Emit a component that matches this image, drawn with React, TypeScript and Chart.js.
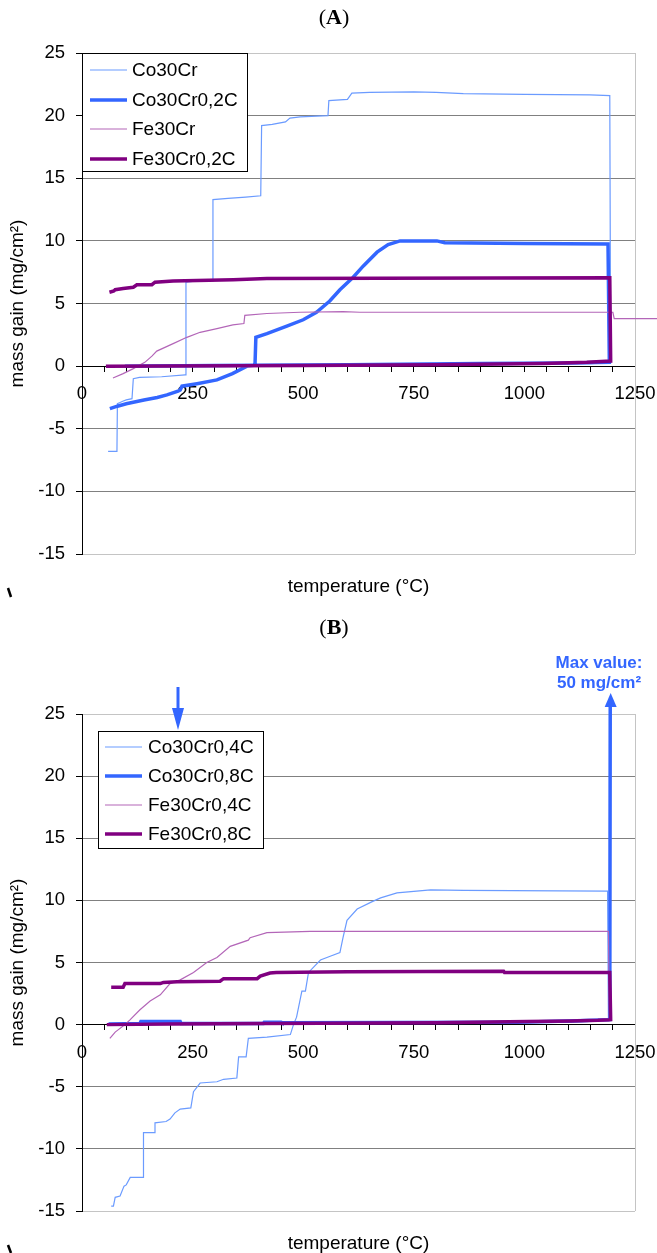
import React, { useEffect, useRef } from "react";
import { Chart, registerables } from "chart.js";

Chart.register(...registerables);

type Pt = [number, number];

// ---------- axis ----------
const xMin = 0;
const xMax = 1250;
const xStep = 50;
const xLabelEvery = 250;
const yMin = -15;
const yMax = 25;
const yStep = 5;

// ---------- panel A ----------
const namesA = ["Co30Cr", "Co30Cr0,2C", "Fe30Cr", "Fe30Cr0,2C"];

const co30Cr: Pt[] = [
  [59, -6.8], [79, -6.8], [80, -3.0], [86, -2.9], [92, -2.8], [100, -2.7], [113, -2.6],
  [116, -1.0], [130, -0.9], [180, -0.85], [233, -0.7], [235, 6.7], [260, 6.8], [294, 6.8],
  [296, 13.3], [330, 13.4], [370, 13.5], [404, 13.6], [406, 19.2], [430, 19.3], [460, 19.5],
  [470, 19.8], [493, 19.9], [556, 20.0], [558, 21.2], [600, 21.3], [610, 21.8], [650, 21.85],
  [750, 21.9], [800, 21.85], [862, 21.75], [1000, 21.7], [1148, 21.65], [1193, 21.6],
  [1195, 0.3], [1150, 0.2], [900, 0.15], [600, 0.1], [300, 0.1], [100, 0.05],
];

const co30Cr02C: Pt[] = [
  [63, -3.4], [80, -3.2], [100, -3.0], [140, -2.7], [170, -2.5], [192, -2.3], [217, -2.0],
  [222, -1.9], [226, -1.6], [260, -1.4], [305, -1.1], [340, -0.6], [373, 0.0], [391, 0.05],
  [393, 2.3], [418, 2.6], [463, 3.2], [500, 3.7], [530, 4.3], [560, 5.2], [583, 6.1],
  [613, 7.1], [636, 8.0], [667, 9.1], [692, 9.7], [719, 10.0], [802, 10.0], [820, 9.85],
  [1000, 9.8], [1189, 9.75], [1192, 0.3], [1100, 0.25], [900, 0.2], [600, 0.1], [300, 0.05],
  [97, 0.0],
];

const fe30Cr: Pt[] = [
  [70, -0.95], [93, -0.6], [116, -0.2], [142, 0.3], [158, 0.8], [169, 1.2], [206, 1.8],
  [237, 2.3], [267, 2.7], [305, 3.0], [341, 3.3], [366, 3.4], [368, 4.05], [418, 4.2],
  [493, 4.3], [590, 4.35], [628, 4.3], [1000, 4.3], [1200, 4.3], [1203, 3.8], [1320, 3.8],
];

const fe30Cr02C: Pt[] = [
  [62, 5.9], [72, 6.0], [75, 6.1], [93, 6.2], [116, 6.3], [124, 6.5], [158, 6.5], [165, 6.7],
  [206, 6.8], [342, 6.9], [418, 7.0], [1193, 7.05], [1195, 0.4], [1141, 0.3], [1042, 0.2],
  [800, 0.1], [500, 0.05], [54, 0.0],
];

// ---------- panel B ----------
const namesB = ["Co30Cr0,4C", "Co30Cr0,8C", "Fe30Cr0,4C", "Fe30Cr0,8C"];

const co30Cr04C: Pt[] = [
  [66, -14.6], [71, -14.6], [75, -13.9], [86, -13.8], [95, -13.0], [100, -12.9], [109, -12.3],
  [138, -12.3], [139, -8.7], [163, -8.7], [165, -7.9], [190, -7.8], [199, -7.6], [210, -7.1],
  [222, -6.8], [246, -6.7], [252, -5.4], [267, -4.7], [305, -4.6], [320, -4.4], [350, -4.3],
  [354, -2.6], [371, -2.6], [376, -1.1], [418, -1.0], [471, -0.8], [478, 0.0], [485, 0.6],
  [497, 2.7], [505, 2.7], [512, 4.2], [539, 5.2], [561, 5.5], [583, 5.8], [590, 7.0],
  [599, 8.4], [622, 9.3], [656, 9.9], [675, 10.2], [712, 10.6], [788, 10.85], [863, 10.8],
  [1188, 10.75], [1190, 0.3], [1100, 0.2], [900, 0.15], [600, 0.1], [300, 0.1], [100, 0.05],
];

const co30Cr08C: Pt[] = [
  [60, 0.05], [131, 0.1], [133, 0.25], [222, 0.25], [224, 0.1], [410, 0.1], [412, 0.2],
  [450, 0.2], [452, 0.15], [985, 0.2], [1100, 0.3], [1193, 0.4], [1195, 50],
];

const fe30Cr04C: Pt[] = [
  [63, -1.1], [75, -0.6], [97, 0.0], [109, 0.4], [131, 1.2], [154, 1.9], [177, 2.4],
  [199, 3.3], [222, 3.6], [252, 4.2], [282, 5.0], [305, 5.4], [335, 6.3], [376, 6.8],
  [380, 7.0], [418, 7.4], [516, 7.5], [1000, 7.5], [1190, 7.5], [1192, 0.3], [1100, 0.25],
  [800, 0.15], [400, 0.1], [100, 0.05],
];

const fe30Cr08C: Pt[] = [
  [66, 3.0], [93, 3.0], [97, 3.3], [177, 3.3], [184, 3.4], [215, 3.45], [312, 3.5],
  [320, 3.7], [396, 3.7], [403, 3.9], [425, 4.15], [439, 4.2], [600, 4.25], [953, 4.3],
  [955, 4.2], [1193, 4.2], [1195, 0.4], [1166, 0.35], [1105, 0.3], [1007, 0.25], [800, 0.15],
  [410, 0.1], [200, 0.05], [56, 0.0],
];

// annotation values (panel B)
const markerTemp = 217;
const maxValueTemp = 1195;
const maxValueText = ["Max value:", "50 mg/cm²"];

// ---------- styles ----------
const SANS = '"Liberation Sans", Arial, sans-serif';
const SERIF = '"Liberation Serif", "Times New Roman", serif';
const seriesStyle = [
  { color: "#6b9bff", width: 1.2 },
  { color: "#3366ff", width: 3.5 },
  { color: "#b366b8", width: 1.2 },
  { color: "#800080", width: 3.5 },
];
const ANNOT_BLUE = "#3366ff";

type PanelCfg = {
  letter: string;
  names: string[];
  series: Pt[][];
  clips: any[];
  height: number;
  padding: { top: number; bottom: number; left: number; right: number };
  titleY: number;
  legend: { x: number; y: number; w: number; h: number; sampleX: number; textX: number; rowY: number[] };
  stray: [number, number, number, number];
  annotate: boolean;
};

const decoPlugin = {
  id: "deco",
  beforeDatasetsDraw(chart: any) {
    const { ctx, chartArea: a } = chart;
    ctx.save();
    ctx.strokeStyle = "#c4c4c4";
    ctx.lineWidth = 1;
    ctx.beginPath();
    ctx.moveTo(a.right + 0.5, a.top);
    ctx.lineTo(a.right + 0.5, a.bottom);
    ctx.stroke();
    ctx.restore();
  },
  afterDraw(chart: any, _args: any, opts: any) {
    const cfg: PanelCfg = opts.cfg;
    const { ctx, chartArea: a } = chart;
    ctx.save();
    // panel title "(A)"
    ctx.fillStyle = "#000";
    ctx.textBaseline = "middle";
    const fReg = `22px ${SERIF}`;
    const fBold = `bold 22px ${SERIF}`;
    ctx.font = fReg;
    const wp = ctx.measureText("(").width;
    ctx.font = fBold;
    const wl = ctx.measureText(cfg.letter).width;
    const total = wp * 2 + wl;
    let tx = 334 - total / 2;
    ctx.textAlign = "left";
    ctx.font = fReg;
    ctx.fillText("(", tx, cfg.titleY);
    ctx.font = fBold;
    ctx.fillText(cfg.letter, tx + wp, cfg.titleY);
    ctx.font = fReg;
    ctx.fillText(")", tx + wp + wl, cfg.titleY);

    // axis titles
    ctx.font = `19px ${SANS}`;
    ctx.textAlign = "center";
    ctx.fillText("temperature (°C)", (a.left + a.right) / 2, a.bottom + 33);
    ctx.save();
    ctx.translate(18, (a.top + a.bottom) / 2);
    ctx.rotate(-Math.PI / 2);
    ctx.fillText("mass gain (mg/cm²)", 0, 0);
    ctx.restore();

    // legend
    const L = cfg.legend;
    ctx.fillStyle = "#fff";
    ctx.fillRect(L.x, L.y, L.w, L.h);
    ctx.strokeStyle = "#000";
    ctx.lineWidth = 1;
    ctx.strokeRect(L.x + 0.5, L.y + 0.5, L.w, L.h);
    ctx.font = `19px ${SANS}`;
    ctx.textAlign = "left";
    chart.data.datasets.forEach((ds: any, i: number) => {
      const y = L.rowY[i];
      ctx.strokeStyle = ds.borderColor;
      ctx.lineWidth = ds.borderWidth;
      ctx.beginPath();
      ctx.moveTo(L.sampleX, y);
      ctx.lineTo(L.sampleX + 37, y);
      ctx.stroke();
      ctx.fillStyle = "#000";
      ctx.fillText(ds.label, L.textX, y + 1);
    });

    // annotations
    if (cfg.annotate) {
      const xs = chart.scales.x;
      const mx = Math.round(xs.getPixelForValue(markerTemp));
      ctx.fillStyle = ANNOT_BLUE;
      ctx.strokeStyle = ANNOT_BLUE;
      ctx.lineWidth = 3;
      ctx.beginPath();
      ctx.moveTo(mx, a.top - 27);
      ctx.lineTo(mx, a.top - 4);
      ctx.stroke();
      ctx.beginPath();
      ctx.moveTo(mx - 6, a.top - 6);
      ctx.lineTo(mx + 6, a.top - 6);
      ctx.lineTo(mx, a.top + 16);
      ctx.closePath();
      ctx.fill();

      const vx = xs.getPixelForValue(maxValueTemp);
      ctx.beginPath();
      ctx.moveTo(vx - 6, a.top - 7);
      ctx.lineTo(vx + 6, a.top - 7);
      ctx.lineTo(vx, a.top - 21);
      ctx.closePath();
      ctx.fill();

      ctx.font = `bold 17px ${SANS}`;
      ctx.textAlign = "center";
      ctx.fillText(maxValueText[0], 599, a.top - 51);
      ctx.fillText(maxValueText[1], 599, a.top - 31);
    }

    // stray mark
    const [sx1, sy1, sx2, sy2] = cfg.stray;
    ctx.strokeStyle = "#000";
    ctx.lineWidth = 2.5;
    ctx.beginPath();
    ctx.moveTo(sx1, sy1);
    ctx.lineTo(sx2, sy2);
    ctx.stroke();
    ctx.restore();
  },
};

function buildChart(canvas: HTMLCanvasElement, cfg: PanelCfg) {
  const datasets = cfg.series.map((pts, i) => ({
    label: cfg.names[i],
    data: pts.map(([x, y]) => ({ x, y })),
    showLine: true,
    borderColor: seriesStyle[i].color,
    backgroundColor: seriesStyle[i].color,
    borderWidth: seriesStyle[i].width,
    pointRadius: 0,
    pointHoverRadius: 0,
    tension: 0,
    fill: false,
    order: 3 - i,
    clip: cfg.clips[i],
  }));
  const tickFont = { family: SANS, size: 18.5 };
  return new Chart(canvas, {
    type: "scatter",
    data: { datasets },
    options: {
      animation: false,
      responsive: false,
      devicePixelRatio: 1,
      events: [],
      layout: { padding: cfg.padding },
      plugins: {
        legend: { display: false },
        tooltip: { enabled: false },
        deco: { cfg },
      } as any,
      scales: {
        x: {
          type: "linear",
          min: xMin,
          max: xMax,
          position: { y: 0 } as any,
          ticks: {
            stepSize: xStep,
            autoSkip: false,
            maxRotation: 0,
            padding: 12,
            color: "#000",
            font: tickFont,
            callback: (v: any) => (Number(v) % xLabelEvery === 0 ? String(v) : ""),
          },
          grid: { drawOnChartArea: false, drawTicks: true, tickLength: 5, tickColor: "#000" },
          border: { color: "#000", width: 1 },
          afterFit: (s: any) => {
            s.paddingLeft = 0;
            s.paddingRight = 0;
          },
        },
        y: {
          type: "linear",
          min: yMin,
          max: yMax,
          position: "left",
          ticks: { stepSize: yStep, padding: 11, color: "#000", font: tickFont },
          grid: {
            color: (c: any) =>
              c.tick && (c.tick.value === yMax || c.tick.value === yMin) ? "#c4c4c4" : "#808080",
            tickLength: 6,
            tickColor: "#000",
            lineWidth: 1,
          },
          border: { color: "#000", width: 1 },
          afterFit: (s: any) => {
            s.width = 82;
          },
        },
      },
    } as any,
    plugins: [decoPlugin],
  });
}

const panelA: PanelCfg = {
  letter: "A",
  names: namesA,
  series: [co30Cr, co30Cr02C, fe30Cr, fe30Cr02C],
  clips: [0, 0, { left: 0, top: 0, right: 30, bottom: 0 }, 0],
  height: 605,
  padding: { top: 53, bottom: 51, left: 0, right: 22 },
  titleY: 18,
  legend: { x: 82, y: 53, w: 165, h: 118, sampleX: 90, textX: 132, rowY: [70, 100, 129, 159] },
  stray: [8, 588, 11, 597],
  annotate: false,
};

const panelB: PanelCfg = {
  letter: "B",
  names: namesB,
  series: [co30Cr04C, co30Cr08C, fe30Cr04C, fe30Cr08C],
  clips: [0, { left: 0, top: 8, right: 0, bottom: 0 }, 0, 0],
  height: 648,
  padding: { top: 109, bottom: 42, left: 0, right: 22 },
  titleY: 23,
  legend: { x: 98, y: 126, w: 165, h: 117, sampleX: 105, textX: 148, rowY: [142, 171, 200, 229] },
  stray: [8, 640, 11, 648],
  annotate: true,
};

function Panel({ cfg }: { cfg: PanelCfg }) {
  const ref = useRef<HTMLCanvasElement>(null);
  useEffect(() => {
    if (!ref.current) return;
    const chart = buildChart(ref.current, cfg);
    return () => chart.destroy();
  }, [cfg]);
  return (
    <canvas
      ref={ref}
      width={657}
      height={cfg.height}
      style={{ display: "block", width: 657, height: cfg.height }}
    />
  );
}

export default function App() {
  useEffect(() => {
    document.body.style.margin = "0";
    document.body.style.background = "#fff";
  }, []);
  return (
    <div style={{ width: 657, height: 1253, overflow: "hidden", background: "#fff" }}>
      <Panel cfg={panelA} />
      <Panel cfg={panelB} />
    </div>
  );
}
